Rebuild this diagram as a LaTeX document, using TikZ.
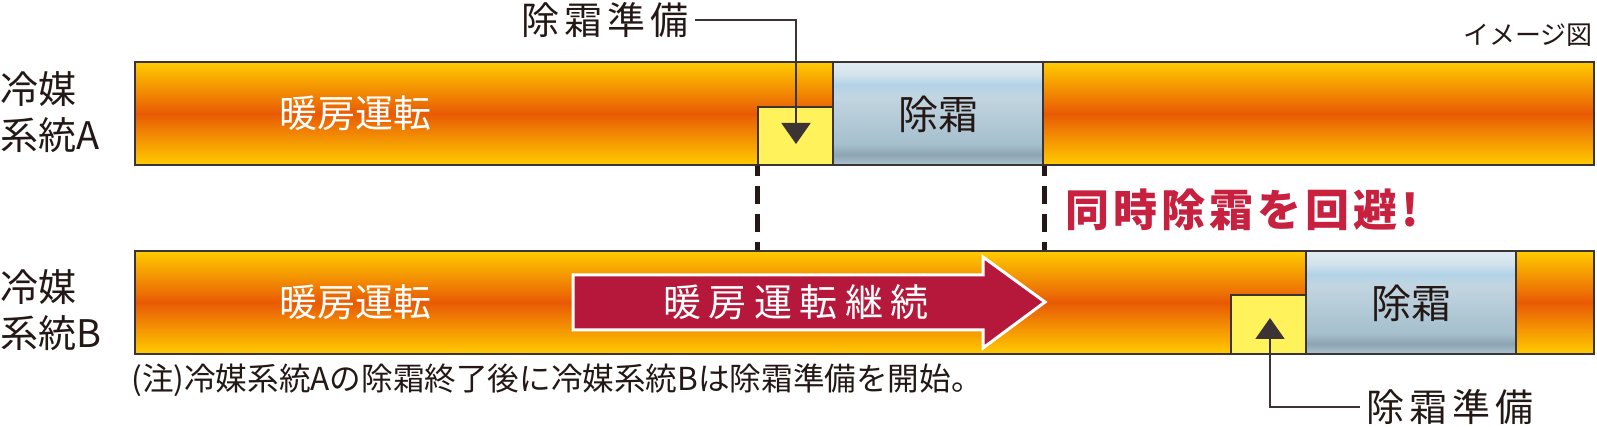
\documentclass[tikz,border=0pt]{standalone}
\usepackage{fontspec}
\newfontfamily\cjk{Noto Sans CJK JP}
\newfontfamily\cjkprep[LetterSpace=13]{Noto Sans CJK JP}
\newfontfamily\cjkarrow[LetterSpace=20]{Noto Sans CJK JP}
\newfontfamily\cjkred[LetterSpace=9]{Noto Sans CJK JP}
\usetikzlibrary{arrows.meta}

\definecolor{heatedge}{HTML}{FFCC00}
\definecolor{heatcore}{HTML}{E85A04}
\definecolor{frosttop}{HTML}{E0ECF3}
\definecolor{frostband}{HTML}{B2D3E7}
\definecolor{frostmid}{HTML}{C2D5E0}
\definecolor{frostlow}{HTML}{A5BFCD}
\definecolor{frostdark}{HTML}{8DA4B1}
\definecolor{frostbase}{HTML}{A9C4D2}
\definecolor{prepyellow}{HTML}{FFF25A}
\definecolor{edgegray}{HTML}{3C3434}
\definecolor{inkdark}{HTML}{231815}
\definecolor{arrowred}{HTML}{B5183A}
\definecolor{alertred}{HTML}{C8203F}

\pgfdeclareverticalshading{heat}{100bp}{color(0bp)=(heatedge); color(25bp)=(heatedge);
  color(50bp)=(heatcore); color(75bp)=(heatedge); color(100bp)=(heatedge)}
\pgfdeclareverticalshading{frost}{100bp}{color(0bp)=(frostbase); color(25bp)=(frostbase);
  color(30bp)=(frostdark); color(35bp)=(frostlow); color(58bp)=(frostmid);
  color(64bp)=(frostband); color(69bp)=(frosttop!60!frostmid); color(75bp)=(frosttop);
  color(100bp)=(frosttop)}

\tikzset{
  heatbar/.style={draw=edgegray, line width=1pt, shade, shading=heat, inner sep=0pt,
    minimum width=729.5pt, minimum height=51.5pt},
  frostbox/.style={draw=edgegray, line width=1pt, shade, shading=frost, inner sep=0pt,
    minimum width=105pt, minimum height=51.5pt},
  prepbox/.style={draw=edgegray, line width=1pt, fill=prepyellow, inner sep=0pt,
    minimum width=37.5pt},
  heatlabel/.style={text=white, font=\cjk\fontsize{19pt}{23pt}\selectfont},
  frostlabel/.style={text=inkdark, font=\cjk\fontsize{20pt}{24pt}\selectfont},
  syslabel/.style={text=inkdark, align=left, anchor=west, inner sep=0pt,
    font=\cjk\fontsize{19pt}{23pt}\selectfont},
  preplabel/.style={text=inkdark, inner sep=3pt, font=\cjkprep\fontsize{19pt}{23pt}\selectfont},
  leader/.style={draw=edgegray, line width=1pt, -{Triangle[width=14.5pt, length=10.5pt]}},
  gapline/.style={draw=inkdark, line width=2.5pt, dash pattern=on 9pt off 5pt, dash phase=4pt}
}

\begin{document}
\begin{tikzpicture}[x=0.5pt, y=-0.5pt]
    \useasboundingbox (0, 0) rectangle (1597, 427);

    % system A
    \node[heatbar] (barA) at (864.5, 113.5) {};
    \node[frostbox] (frostA) at (938, 113.5) {};
    \node[prepbox, minimum height=29pt] (yellowA) at (795.5, 136) {};
    \node[heatlabel] (heatA) at (355, 113) {暖房運転};
    \node[frostlabel] (defA) at (938, 114) {除霜};
    \node[syslabel] (sysA) at (0, 112.5) {冷媒\\系統A};

    % system B
    \node[heatbar] (barB) at (864.5, 302.5) {};
    \node[frostbox] (frostB) at (1411, 302.5) {};
    \node[prepbox, minimum height=29.5pt] (yellowB) at (1268.5, 324.5) {};
    \node[heatlabel] (heatB) at (355, 302) {暖房運転};
    \node[frostlabel] (defB) at (1411, 303) {除霜};
    \node[syslabel] (sysB) at (0, 310) {冷媒\\系統B};

    % continue arrow
    \fill[arrowred, draw=white, line width=1.5pt, line join=miter]
        (573, 275) -- (983, 275) -- (983, 257) -- (1045, 302)
        -- (983, 348) -- (983, 330) -- (573, 330) -- cycle;
    \node[text=white, font=\cjkarrow\fontsize{19pt}{23pt}\selectfont] (keep) at (796, 302) {暖房運転継続};

    % prep labels
    \node[preplabel] (prepA) at (605, 20) {除霜準備};
    \coordinate (tipA) at (796, 144);
    \draw[leader] (prepA.east) -| (tipA);

    \node[preplabel] (prepB) at (1450, 407) {除霜準備};
    \coordinate (tipB) at (1270, 318);
    \draw[leader] (prepB.west) -| (tipB);

    % no overlap
    \draw[gapline] (yellowA.south west) -- (yellowA.south west |- barB.north);
    \draw[gapline] (frostA.south east) -- (frostA.south east |- barB.north);
    \node[text=alertred, font=\cjkred\bfseries\fontsize{22pt}{26pt}\selectfont] (avoid) at (1242, 210) {同時除霜を回避!};

    \node[text=inkdark, anchor=east, inner sep=0pt, font=\cjk\fontsize{13pt}{16pt}\selectfont] (image) at (1593, 35) {イメージ図};
    \node[text=inkdark, font=\cjk\fontsize{15.8pt}{19pt}\selectfont] (note) at (557, 380) {(注)冷媒系統Aの除霜終了後に冷媒系統Bは除霜準備を開始。};
\end{tikzpicture}
\end{document}
